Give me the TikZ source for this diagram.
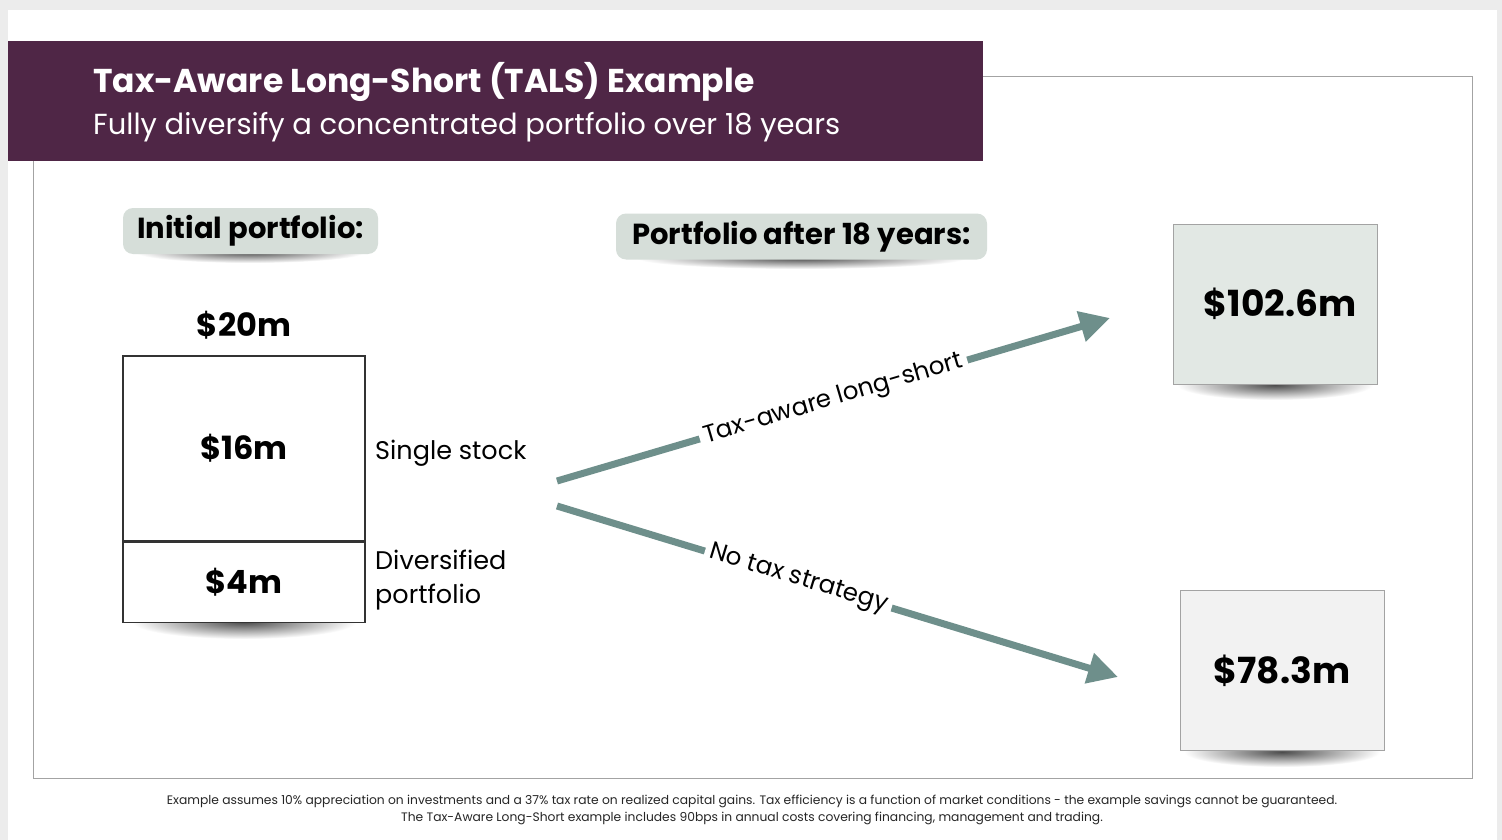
\documentclass[tikz,border=0pt]{standalone}
\usepackage{fontspec}
\setmainfont{Poppins}
\usetikzlibrary{positioning}
\usetikzlibrary{arrows.meta}
\definecolor{plum}{HTML}{4F2646}
\definecolor{sage}{HTML}{D6DED9}
\definecolor{branchteal}{HTML}{6E8F8B}
\definecolor{framegray}{HTML}{A3A3A3}
\definecolor{pagegray}{HTML}{ECECEC}

\begin{document}
\begin{tikzpicture}[x=1pt, y=-1pt,
		pill/.style={fill=sage, rounded corners=10pt, minimum height=46pt, inner xsep=4pt,
			font=\fontsize{29}{33}\selectfont\bfseries},
		part/.style={draw=black!80, line width=1.3pt, fill=white, minimum width=242pt,
			font=\fontsize{32}{36}\selectfont\bfseries},
		result/.style={draw=framegray, line width=1pt, minimum width=204pt, minimum height=160pt,
			font=\fontsize{36}{40}\selectfont\bfseries},
		branch/.style={draw=branchteal, line width=7pt, -{Triangle[length=30pt, width=30pt]}},
		branchlabel/.style={fill=white, sloped, inner xsep=5pt, inner ysep=2pt, font=\fontsize{24.5}{28}\selectfont},
		blob/.style={inner color=black!70, outer color=white}
		]
		
		\useasboundingbox (0,0) rectangle (1502,840);
		\fill[pagegray] (0,0) rectangle (1502,840);
		\fill[white] (8,10) rectangle (1497,840);
		
		% frame and banner
		\draw[framegray, line width=1pt] (983,77) -- (1472,77) -- (1472,778) -- (33,778) -- (33,161);
		\fill[plum] (8,41) rectangle (983,161);
		\node[anchor=base west, inner sep=0pt, text=white, font=\fontsize{33}{38}\selectfont\bfseries] (title) at (93,93) {Tax-Aware Long-Short (TALS) Example};
		\node[anchor=base west, inner sep=0pt, text=white, font=\fontsize{29}{34}\selectfont] (subtitle) at (93,135) {Fully diversify a concentrated portfolio over 18 years};
		
		% shadows
		\shade[blob] (250,252) ellipse (115 and 11);
		\shade[blob] (801,258) ellipse (165 and 11);
		\shade[blob] (244,622) ellipse (112 and 17);
		\shade[blob] (1275,385) ellipse (98 and 15);
		\shade[blob] (1282,752) ellipse (98 and 15);
		
		% headings
		\node[pill, minimum width=255pt] (initial) at (250.5,231) {Initial portfolio:};
		\node[pill, minimum width=371pt] (after) at (801.5,236.5) {Portfolio after 18 years:};
		
		% initial portfolio
		\node[part, minimum height=185pt] (stock) at (244,448.5) {\$16m};
		\node[part, minimum height=80pt, below=0pt of stock] (div) {\$4m};
		\node[above=13pt of stock, font=\fontsize{32}{36}\selectfont\bfseries] (total) {\$20m};
		\node[anchor=west, inner sep=0pt, font=\fontsize{25.5}{29}\selectfont] (stocklabel) at (375,453) {Single stock};
		\node[anchor=west, inner sep=0pt, align=left, font=\fontsize{25.5}{34}\selectfont] (divlabel) at (375,580) {Diversified\\portfolio};
		
		% results
		\node[result, fill=sage!70] (tals) at (1275,304) {\hspace*{10pt}\$102.6m};
		\node[result, fill=black!5] (notax) at (1282,670.5) {\$78.3m};
		
		% branches
		\coordinate (fork up) at (557,481);
		\coordinate (tip up) at (1110,318);
		\coordinate (fork down) at (557,506);
		\coordinate (tip down) at (1118,677);
		\draw[branch] (fork up) -- node[branchlabel] {Tax-aware long-short} (tip up);
		\draw[branch] (fork down) -- node[branchlabel, pos=0.43] {No tax strategy} (tip down);
		
		% footnote
		\node[font=\fontsize{12.3}{14}\selectfont, text=black!85] (note1) at (752,801) {Example assumes 10\% appreciation on investments and a 37\% tax rate on realized capital gains. Tax efficiency is a function of market conditions - the example savings cannot be guaranteed.};
		\node[font=\fontsize{12.3}{14}\selectfont, text=black!85] (note2) at (752,818) {The Tax-Aware Long-Short example includes 90bps in annual costs covering financing, management and trading.};
	\end{tikzpicture}
\end{document}
